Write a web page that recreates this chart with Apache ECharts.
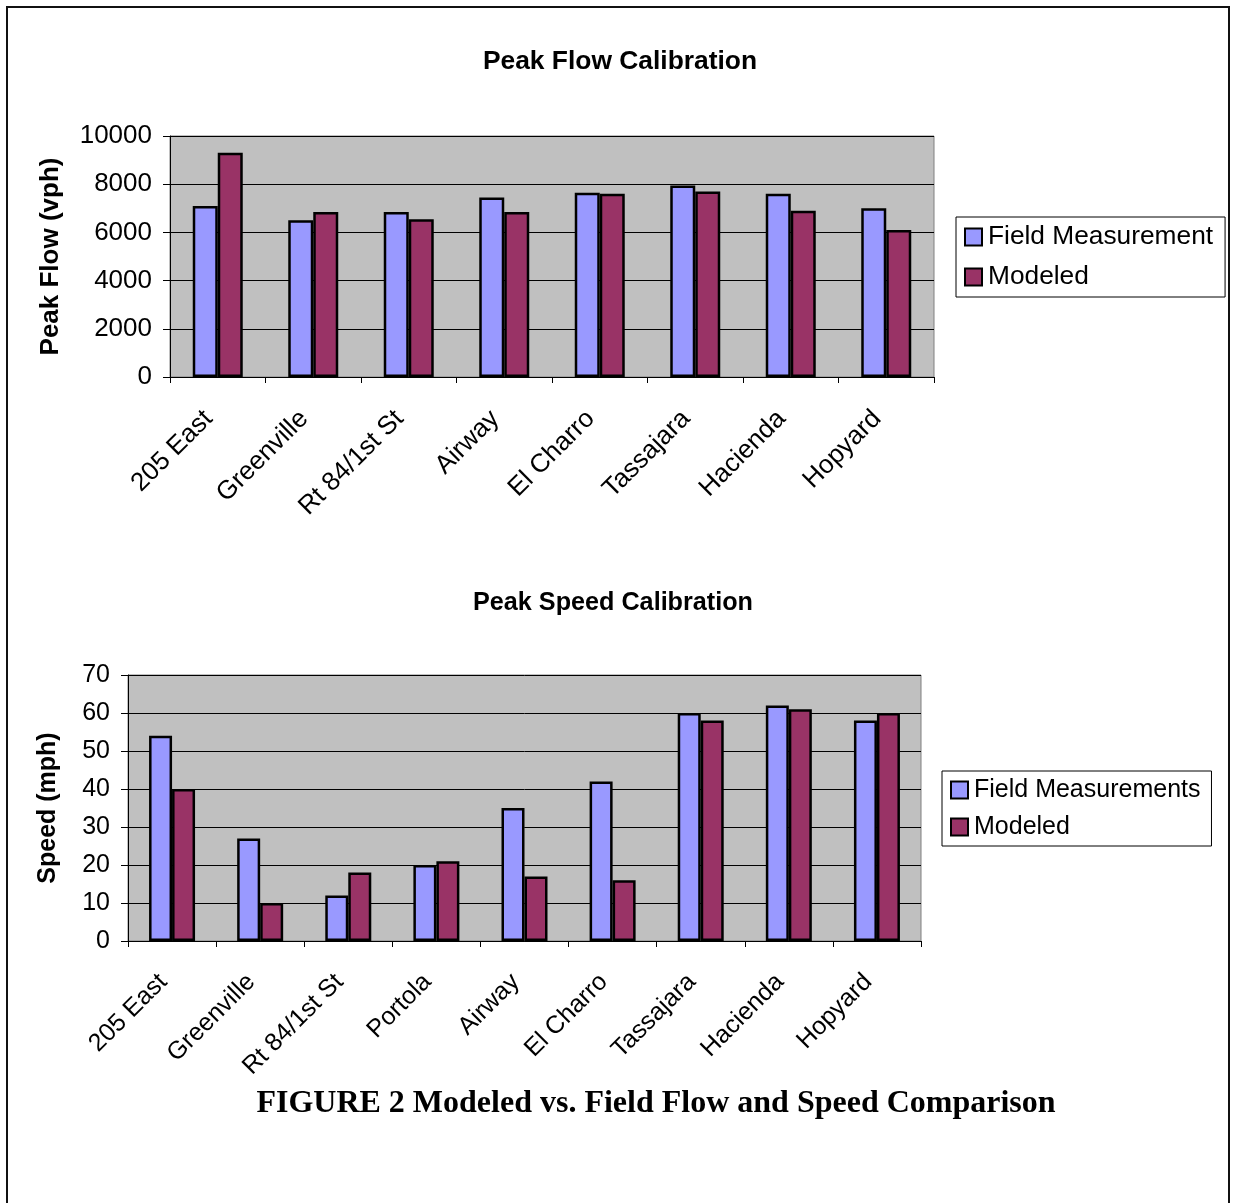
<!DOCTYPE html>
<html lang="en">
<head>
<meta charset="UTF-8">
<title>Peak Flow / Speed Calibration</title>
<script src="https://cdn.jsdelivr.net/npm/echarts@6/dist/echarts.min.js"></script>
<style>
  html, body { margin: 0; padding: 0; background: #fff; }
  #main { width: 1233px; height: 1203px; }
</style>
</head>
<body>
<div id="main"></div>
<script type="text/javascript">
	// top chart: peak flow
	var flowSites = ['205 East', 'Greenville', 'Rt 84/1st St', 'Airway', 'El Charro', 'Tassajara', 'Hacienda', 'Hopyard'];
	var flowField = [7100, 6500, 6850, 7450, 7650, 7950, 7600, 7000];
	var flowModeled = [9300, 6850, 6550, 6850, 7600, 7700, 6900, 6100];

	// bottom chart: peak speed
	var speedSites = ['205 East', 'Greenville', 'Rt 84/1st St', 'Portola', 'Airway', 'El Charro', 'Tassajara', 'Hacienda', 'Hopyard'];
	var speedField = [54, 27, 12, 20, 35, 42, 60, 62, 58];
	var speedModeled = [40, 10, 18, 21, 17, 16, 58, 61, 60];

	var FIELD_COLOR = '#9999FF';
	var MODEL_COLOR = '#993366';
	var FONT = 'Liberation Sans, Arial, sans-serif';

	var dom = document.getElementById('main');
	var myChart = echarts.init(dom);

	function catAxis(idx, data, fs, margin) {
		return {
			type: 'category',
			gridIndex: idx,
			data: data,
			axisLine: { lineStyle: { color: '#000', width: 1 } },
			axisTick: { show: true, length: 6, lineStyle: { color: '#000' } },
			axisLabel: {
				rotate: 45, margin: margin, color: '#000', fontSize: fs, fontFamily: FONT,
				interval: 0, verticalAlign: 'bottom'
			}
		};
	}

	function valAxis(idx, max, step, name, gap, fs) {
		return {
			type: 'value',
			gridIndex: idx,
			min: 0,
			max: max,
			interval: step,
			name: name,
			nameLocation: 'middle',
			nameGap: gap,
			nameTextStyle: { color: '#000', fontSize: fs, fontWeight: 'bold', fontFamily: FONT },
			axisLine: { show: true, lineStyle: { color: '#000', width: 1 } },
			axisTick: { show: true, length: 7, lineStyle: { color: '#000' } },
			axisLabel: {
				margin: 18, color: '#000', fontSize: fs, fontFamily: FONT,
				formatter: function (v) { return String(v); }
			},
			splitLine: { lineStyle: { color: '#000', width: 1 } }
		};
	}

	function bar(name, x, data, color, w) {
		return {
			name: name,
			type: 'bar',
			xAxisIndex: x,
			yAxisIndex: x,
			data: data,
			barWidth: w,
			barGap: '0%',
			itemStyle: { color: color, borderColor: '#000', borderWidth: 2.5 }
		};
	}

	var option = {
		animation: false,
		backgroundColor: '#fff',
		title: [
			{
				text: 'Peak Flow Calibration',
				left: 615, top: 44, textAlign: 'center',
				textStyle: { fontSize: 26.4, fontWeight: 'bold', color: '#000', fontFamily: FONT }
			},
			{
				text: 'Peak Speed Calibration',
				left: 608, top: 586, textAlign: 'center',
				textStyle: { fontSize: 25.2, fontWeight: 'bold', color: '#000', fontFamily: FONT }
			},
			{
				text: 'FIGURE 2 Modeled vs. Field Flow and Speed Comparison',
				left: 651, top: 1083, textAlign: 'center',
				textStyle: { fontSize: 32, fontWeight: 'bold', color: '#000', fontFamily: 'Liberation Serif, Times New Roman, serif' }
			}
		],
		legend: [
			{
				data: ['Field Measurement', 'Modeled'],
				orient: 'vertical',
				left: 956, top: 217,
				icon: 'rect',
				itemWidth: 17, itemHeight: 17, itemGap: 12,
				padding: [6, 12, 6, 8],
				borderColor: '#000', borderWidth: 1,
				textStyle: { fontSize: 26.3, color: '#000', fontFamily: FONT, lineHeight: 28, padding: [0, 0, 0, 1] }
			},
			{
				data: ['Field Measurements', 'Modeled'],
				orient: 'vertical',
				left: 942, top: 771,
				icon: 'rect',
				itemWidth: 17, itemHeight: 17, itemGap: 9,
				padding: [5, 11, 5, 8],
				borderColor: '#000', borderWidth: 1,
				textStyle: { fontSize: 25, color: '#000', fontFamily: FONT, lineHeight: 28, padding: [0, 0, 0, 1] }
			}
		],
		grid: [
			{ left: 170, top: 136, width: 764, height: 241, show: true, backgroundColor: '#C0C0C0', borderColor: '#808080', borderWidth: 1 },
			{ left: 128, top: 675, width: 793, height: 266, show: true, backgroundColor: '#C0C0C0', borderColor: '#808080', borderWidth: 1 }
		],
		xAxis: [catAxis(0, flowSites, 26, 47), catAxis(1, speedSites, 25, 46)],
		yAxis: [
			valAxis(0, 10000, 2000, 'Peak Flow (vph)', 106, 26),
			valAxis(1, 70, 10, 'Speed (mph)', 67, 25)
		],
		series: [
			bar('Field Measurement', 0, flowField, FIELD_COLOR, 25),
			bar('Modeled', 0, flowModeled, MODEL_COLOR, 25),
			bar('Field Measurements', 1, speedField, FIELD_COLOR, 23),
			bar('Modeled', 1, speedModeled, MODEL_COLOR, 23)
		],
		graphic: [
			{
				type: 'rect',
				shape: { x: 7, y: 7, width: 1222, height: 1210 },
				style: { fill: 'none', stroke: '#111', lineWidth: 2 },
				silent: true
			}
		]
	};

	myChart.setOption(option, true);
</script>
</body>
</html>
